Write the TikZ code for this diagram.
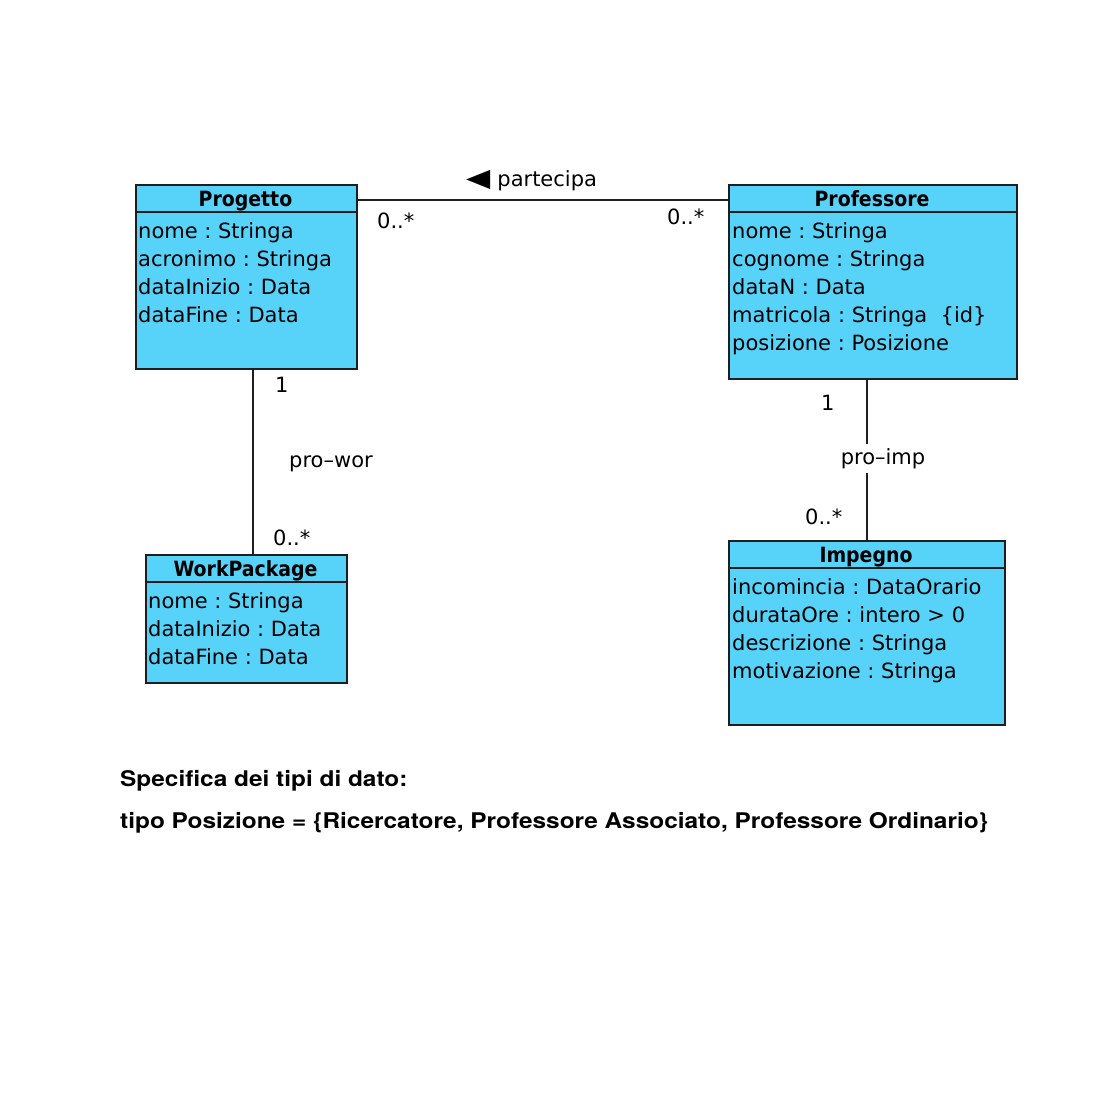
\documentclass[tikz,border=0pt]{standalone}
\usepackage{fontspec}
\setmainfont{DejaVu Sans}
\newfontfamily\hdfont{DejaVu Sans Condensed}[BoldFont={DejaVu Sans Condensed Bold}]
\newfontfamily\notefont{TeX Gyre Heros}[FakeStretch=1.13]
\definecolor{umlfill}{RGB}{87,211,249}
\definecolor{umlline}{RGB}{30,30,30}
\tikzset{
  classbox/.style={draw=umlline, fill=umlfill, line width=1.6pt, inner sep=0pt, anchor=north west},
  divider/.style={draw=umlline, line width=1.4pt},
  hdr/.style={font=\hdfont\bfseries\fontsize{21}{28}\selectfont, anchor=base, inner sep=0pt},
  attr/.style={font=\fontsize{21}{28}\selectfont, anchor=base west, inner sep=0pt},
  mult/.style={font=\fontsize{21}{28}\selectfont, anchor=base west, inner sep=0pt},
  assoc/.style={draw=umlline, line width=1.4pt},
  note/.style={font=\notefont\bfseries\fontsize{21.6}{28}\selectfont, anchor=base west, inner sep=0pt}
}
\frenchspacing
\begin{document}
\begin{tikzpicture}[x=1pt,y=-1pt]
\useasboundingbox (0,0) rectangle (1120,1104);
\fill[white] (0,0) rectangle (1120,1104);

% Progetto
\node[classbox, minimum width=221pt, minimum height=184pt] (prog) at (135,184) {};
\draw[divider] (135,212) -- (356,212);
\node[hdr] (progh) at (245.5,206) {Progetto};
\node[attr] (pa1) at (138,238) {nome : Stringa};
\node[attr] (pa2) at (138,266) {acronimo : Stringa};
\node[attr] (pa3) at (138,294) {dataInizio : Data};
\node[attr] (pa4) at (138,322) {dataFine : Data};

% Professore
\node[classbox, minimum width=288pt, minimum height=194pt] (prof) at (728,184) {};
\draw[divider] (728,212) -- (1016,212);
\node[hdr] (profh) at (872,206) {Professore};
\node[attr] (fa1) at (732,238) {nome : Stringa};
\node[attr] (fa2) at (732,266) {cognome : Stringa};
\node[attr] (fa3) at (732,294) {dataN : Data};
\node[attr] (fa4) at (732,322) {matricola : Stringa \ \{id\}};
\node[attr] (fa5) at (732,350) {posizione : Posizione};

% WorkPackage
\node[classbox, minimum width=201pt, minimum height=128pt] (wp) at (145,554) {};
\draw[divider] (145,582) -- (346,582);
\node[hdr] (wph) at (245.5,576) {WorkPackage};
\node[attr] (wa1) at (148,608) {nome : Stringa};
\node[attr] (wa2) at (148,636) {dataInizio : Data};
\node[attr] (wa3) at (148,664) {dataFine : Data};

% Impegno
\node[classbox, minimum width=276pt, minimum height=184pt] (imp) at (728,540) {};
\draw[divider] (728,568) -- (1004,568);
\node[hdr] (imph) at (866,562) {Impegno};
\node[attr] (ia1) at (732,594) {incomincia : DataOrario};
\node[attr] (ia2) at (732,622) {durataOre : intero > 0};
\node[attr] (ia3) at (732,650) {descrizione : Stringa};
\node[attr] (ia4) at (732,678) {motivazione : Stringa};

% partecipa
\draw[assoc] ([yshift=-16pt]prog.north east) -- ([yshift=-16pt]prof.north west);
\node[mult] (partlbl) at (466,186) {\raisebox{-0.5pt}{\scalebox{1.5}[1.2]{◀}}\hspace{7pt}partecipa};
\node[mult] (m1) at (377,228) {0..*};
\node[mult] (m2) at (667,224) {0..*};

% pro-wor
\draw[assoc] ([xshift=6.5pt]prog.south) -- ([xshift=6.5pt]prog.south |- wp.north);
\node[mult] (m3) at (275,392) {1};
\node[mult] (prowor) at (289,467) {pro–wor};
\node[mult] (m4) at (273,545) {0..*};

% pro-imp
\draw[assoc] (imp.north |- prof.south) -- (imp.north);
\node[font=\fontsize{21}{28}\selectfont, fill=white, inner xsep=1pt, inner ysep=0pt, minimum height=29pt] (proimp) at (883,458.5) {pro–imp};
\node[mult] (m5) at (821,410) {1};
\node[mult] (m6) at (805,524) {0..*};

% note
\node[note] (n1) at (120,786) {Specifica dei tipi di dato:};
\node[note] (n2) at (120,828) {tipo Posizione = \{Ricercatore, Professore Associato, Professore Ordinario\}};
\end{tikzpicture}
\end{document}
